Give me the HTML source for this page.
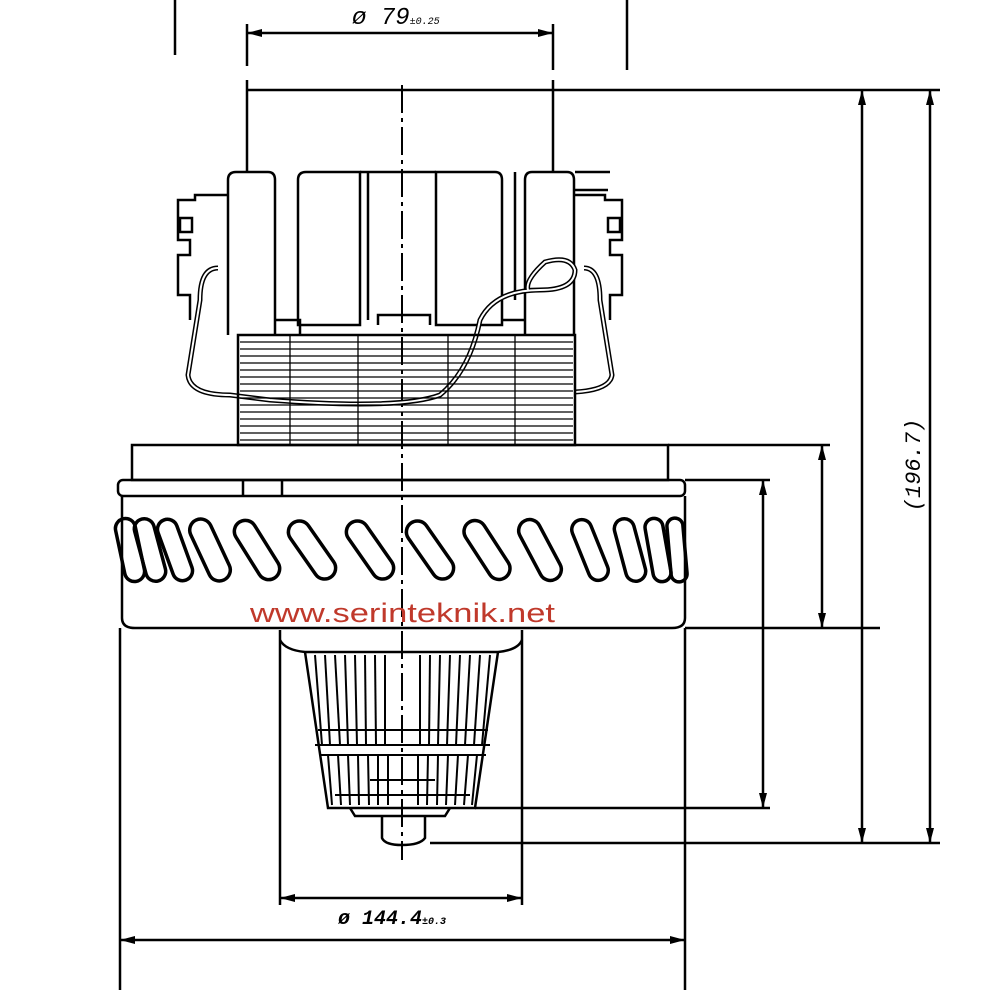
<!DOCTYPE html>
<html><head><meta charset="utf-8"><style>
html,body{margin:0;padding:0;background:#fff;}
svg{display:block;}
text{font-family:"Liberation Mono","DejaVu Sans Mono",monospace;}
</style></head><body>
<svg width="1000" height="993" viewBox="0 0 1000 993" xmlns="http://www.w3.org/2000/svg">
<rect width="1000" height="993" fill="#fff"/>
<g stroke="#000" fill="none" stroke-width="2.5">
<line x1="175" y1="0" x2="175" y2="55"/>
<line x1="627" y1="0" x2="627" y2="70"/>
<line x1="247" y1="33" x2="553" y2="33"/>
<line x1="247" y1="24" x2="247" y2="66"/>
<line x1="553" y1="24" x2="553" y2="70"/>
<line x1="247" y1="80" x2="247" y2="172"/>
<line x1="553" y1="80" x2="553" y2="172"/>
<line x1="247" y1="90" x2="553" y2="90"/>
<line x1="553" y1="90" x2="940" y2="90"/>
<line x1="402" y1="85" x2="402" y2="860" stroke-dasharray="28,5,4,5" stroke-width="2"/>
<path d="M228 335 V180 Q228 172 236 172 H268 Q275 172 275 180 V335"/>
<path d="M298 325 V180 Q298 172 306 172 H360 V325 Z"/>
<line x1="368" y1="172" x2="368" y2="320"/>
<path d="M436 325 V172 H495 Q502 172 502 180 V325 Z"/>
<line x1="360" y1="172" x2="436" y2="172"/>
<path d="M525 335 V180 Q525 172 532 172 H567 Q574 172 574 180 V335"/>
<line x1="515" y1="172" x2="515" y2="300"/>
<line x1="575" y1="190" x2="608" y2="190"/>
<line x1="575" y1="172" x2="610" y2="172"/>
<path d="M228 195 H195 V200 H178 V240 H190 V255 H178 V295 H190 V320"/>
<path d="M574 195 H605 V200 H622 V240 H610 V255 H622 V295 H610 V320"/>
<rect x="180" y="218" width="12" height="14"/>
<rect x="608" y="218" width="12" height="14"/>
<path d="M275 320 H300 V335"/>
<path d="M378 325 V315 H430 V325"/>
<path d="M502 320 H525"/>
<path d="M218 268 Q200 268 200 300 L188 375 Q190 395 230 395 L270 400 Q400 410 440 395 Q470 370 480 320 Q495 290 540 290 Q575 290 575 270 Q570 255 545 262 Q525 280 528 290" stroke-width="5"/>
<path d="M218 268 Q200 268 200 300 L188 375 Q190 395 230 395 L270 400 Q400 410 440 395 Q470 370 480 320 Q495 290 540 290 Q575 290 575 270 Q570 255 545 262 Q525 280 528 290" stroke="#fff" stroke-width="2"/>
<path d="M584 268 Q600 268 600 300 L612 375 Q610 390 575 392" stroke-width="5"/>
<path d="M584 268 Q600 268 600 300 L612 375 Q610 390 575 392" stroke="#fff" stroke-width="2"/>
<rect x="238" y="335" width="337" height="110"/>
</g>
<g stroke="#000" stroke-width="1.3">
<line x1="240" y1="342" x2="573" y2="342"/><line x1="240" y1="349" x2="573" y2="349"/>
<line x1="240" y1="356" x2="573" y2="356"/><line x1="240" y1="363" x2="573" y2="363"/>
<line x1="240" y1="370" x2="573" y2="370"/><line x1="240" y1="377" x2="573" y2="377"/>
<line x1="240" y1="384" x2="573" y2="384"/><line x1="240" y1="391" x2="573" y2="391"/>
<line x1="240" y1="398" x2="573" y2="398"/><line x1="240" y1="405" x2="573" y2="405"/>
<line x1="240" y1="412" x2="573" y2="412"/><line x1="240" y1="419" x2="573" y2="419"/>
<line x1="240" y1="426" x2="573" y2="426"/><line x1="240" y1="433" x2="573" y2="433"/>
<line x1="240" y1="440" x2="573" y2="440"/>
<line x1="290" y1="335" x2="290" y2="445"/><line x1="358" y1="335" x2="358" y2="445"/>
<line x1="448" y1="335" x2="448" y2="445"/><line x1="515" y1="335" x2="515" y2="445"/>
</g>
<g stroke="#000" fill="none" stroke-width="2.5">
<rect x="132" y="445" width="536" height="35"/>
<line x1="668" y1="445" x2="830" y2="445"/>
<rect x="118" y="480" width="567" height="16" rx="5"/>
<line x1="243" y1="480" x2="243" y2="496"/><line x1="282" y1="480" x2="282" y2="496"/>
<path d="M122 496 V618 Q122 628 135 628 H672 Q685 628 685 618 V496"/>
<line x1="685" y1="480" x2="770" y2="480"/>
<line x1="685" y1="628" x2="880" y2="628"/>
</g>
<g stroke="#000" stroke-width="3.5" fill="none">
<rect x="-10" y="-32" width="20" height="64" rx="10" transform="translate(130,550) rotate(-12)"/>
<rect x="-10" y="-32" width="20" height="64" rx="10" transform="translate(150,550) rotate(-15)"/>
<rect x="-10" y="-32" width="20" height="64" rx="10" transform="translate(175,550) rotate(-20)"/>
<rect x="-11" y="-33" width="22" height="66" rx="11" transform="translate(210,550) rotate(-25)"/>
<rect x="-11" y="-33" width="22" height="66" rx="11" transform="translate(257,550) rotate(-32)"/>
<rect x="-11" y="-33" width="22" height="66" rx="11" transform="translate(312,550) rotate(-35)"/>
<rect x="-11" y="-33" width="22" height="66" rx="11" transform="translate(370,550) rotate(-35)"/>
<rect x="-11" y="-33" width="22" height="66" rx="11" transform="translate(430,550) rotate(-35)"/>
<rect x="-11" y="-33" width="22" height="66" rx="11" transform="translate(487,550) rotate(-33)"/>
<rect x="-11" y="-33" width="22" height="66" rx="11" transform="translate(540,550) rotate(-28)"/>
<rect x="-10" y="-32" width="20" height="64" rx="10" transform="translate(590,550) rotate(-22)"/>
<rect x="-10" y="-32" width="20" height="64" rx="10" transform="translate(630,550) rotate(-15)"/>
<rect x="-9" y="-32" width="18" height="64" rx="9" transform="translate(658,550) rotate(-10)"/>
<rect x="-8" y="-32" width="16" height="64" rx="8" transform="translate(677,550) rotate(-5)"/>
</g>
<text x="250" y="622" font-size="27" fill="#c0392b" textLength="305" lengthAdjust="spacingAndGlyphs" style="font-family:'Liberation Sans',sans-serif">www.serinteknik.net</text>
<g stroke="#000" fill="none" stroke-width="2.5">
<path d="M280 640 Q285 650 305 652 H498 Q518 650 522 640"/>
<line x1="280" y1="630" x2="280" y2="905"/>
<line x1="522" y1="630" x2="522" y2="905"/>
<path d="M305 652 L328 808 H475 L498 652"/>
<path d="M350 808 L355 816 H445 L450 808"/>
<path d="M382 816 V838 Q385 845 402 845 Q420 845 425 838 V816"/>
<line x1="475" y1="808" x2="770" y2="808"/>
<line x1="430" y1="843" x2="940" y2="843"/>
</g>
<g stroke="#000" stroke-width="2">
<line x1="315" y1="655" x2="322" y2="745"/><line x1="325" y1="655" x2="330" y2="745"/>
<line x1="335" y1="655" x2="340" y2="745"/><line x1="345" y1="655" x2="348" y2="745"/>
<line x1="355" y1="655" x2="357" y2="745"/><line x1="365" y1="655" x2="366" y2="745"/>
<line x1="375" y1="655" x2="376" y2="745"/><line x1="385" y1="655" x2="385" y2="745"/>
<line x1="420" y1="655" x2="420" y2="745"/><line x1="430" y1="655" x2="429" y2="745"/>
<line x1="440" y1="655" x2="438" y2="745"/><line x1="450" y1="655" x2="447" y2="745"/>
<line x1="460" y1="655" x2="456" y2="745"/><line x1="470" y1="655" x2="465" y2="745"/>
<line x1="480" y1="655" x2="474" y2="745"/><line x1="490" y1="655" x2="482" y2="745"/>
<line x1="315" y1="745" x2="490" y2="745"/><line x1="318" y1="730" x2="488" y2="730"/>
<line x1="320" y1="755" x2="486" y2="755"/>
<line x1="328" y1="755" x2="332" y2="805"/><line x1="338" y1="755" x2="341" y2="805"/>
<line x1="348" y1="755" x2="350" y2="805"/><line x1="358" y1="755" x2="359" y2="805"/>
<line x1="368" y1="755" x2="369" y2="805"/><line x1="378" y1="755" x2="378" y2="805"/>
<line x1="388" y1="755" x2="388" y2="805"/><line x1="418" y1="755" x2="418" y2="805"/>
<line x1="428" y1="755" x2="427" y2="805"/><line x1="438" y1="755" x2="437" y2="805"/>
<line x1="448" y1="755" x2="446" y2="805"/><line x1="458" y1="755" x2="455" y2="805"/>
<line x1="468" y1="755" x2="464" y2="805"/><line x1="477" y1="755" x2="472" y2="805"/>
<line x1="370" y1="780" x2="435" y2="780"/><line x1="335" y1="795" x2="470" y2="795"/>
</g>
<g stroke="#000" fill="none" stroke-width="2.5">
<line x1="280" y1="898" x2="522" y2="898"/>
<line x1="120" y1="628" x2="120" y2="990"/>
<line x1="685" y1="628" x2="685" y2="990"/>
<line x1="120" y1="940" x2="685" y2="940"/>
<line x1="822" y1="445" x2="822" y2="628"/>
<line x1="763" y1="480" x2="763" y2="808"/>
<line x1="862" y1="90" x2="862" y2="843"/>
<line x1="930" y1="90" x2="930" y2="843"/>
</g>
<g fill="#000">
<polygon points="247,33 262,29 262,37"/><polygon points="553,33 538,29 538,37"/>
<polygon points="280,898 295,894 295,902"/><polygon points="522,898 507,894 507,902"/>
<polygon points="120,940 135,936 135,944"/><polygon points="685,940 670,936 670,944"/>
<polygon points="822,445 818,460 826,460"/><polygon points="822,628 818,613 826,613"/>
<polygon points="763,480 759,495 767,495"/><polygon points="763,808 759,793 767,793"/>
<polygon points="862,90 858,105 866,105"/><polygon points="862,843 858,828 866,828"/>
<polygon points="930,90 926,105 934,105"/><polygon points="930,843 926,828 934,828"/>
</g>
<text x="352" y="24" font-size="24" font-style="italic">ø 79<tspan font-size="10">±0.25</tspan></text>
<text x="338" y="924" font-size="20" font-style="italic" font-weight="bold">ø 144.4<tspan font-size="10">±0.3</tspan></text>
<text transform="translate(920,465) rotate(-90)" font-size="22" font-style="italic" text-anchor="middle">(196.7)</text>
</svg>
</body></html>
